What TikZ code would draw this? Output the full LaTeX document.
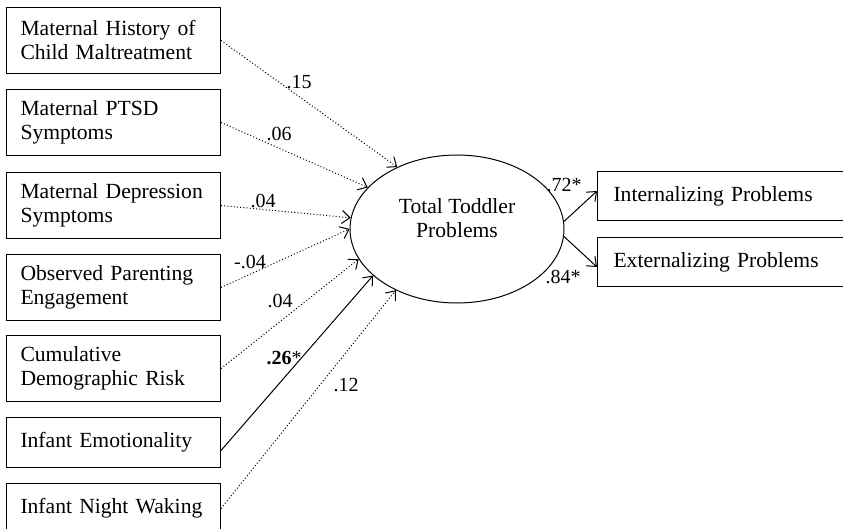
\documentclass[tikz,border=0pt]{standalone}
\usepackage{fontspec}
\setmainfont{Liberation Serif}
\usetikzlibrary{arrows.meta,shapes.geometric}

\begin{document}
\begin{tikzpicture}[x=1pt,y=-1pt,
  font=\fontsize{21.6}{24}\selectfont,
  box/.style={draw, line width=1pt, anchor=north west, minimum width=214pt,
    text width=186pt, inner xsep=14pt, align=left},
  tall/.style={box, minimum height=66pt},
  short/.style={box, minimum height=50pt},
  outbox/.style={draw, line width=1pt, anchor=north west, minimum width=247pt,
    minimum height=49pt, text width=215pt, inner xsep=16pt, align=left},
  coef/.style={font=\fontsize{20}{24}\selectfont, inner sep=0pt},
  link/.style={line width=1pt, -{Straight Barb[length=8pt,width=13pt]}},
  weak/.style={link, dash pattern=on 1pt off 2.2pt}]
  \useasboundingbox (0,0) rectangle (843,529);
  \clip (0,0) rectangle (843,529);

  % predictors
  \node[tall] (mh) at (6,7) {Maternal History of\\Child Maltreatment};
  \node[tall] (pt) at (6,89) {Maternal PTSD\\Symptoms};
  \node[tall] (dep) at (6,172) {Maternal Depression\\Symptoms};
  \node[tall] (par) at (6,254) {Observed Parenting\\Engagement};
  \node[tall] (risk) at (6,335) {Cumulative\\Demographic Risk};
  \node[short] (emo) at (6,417) {Infant Emotionality};
  \node[short] (wake) at (6,483) {Infant Night Waking};

  % latent factor and indicators
  \node[draw, ellipse, line width=1pt, minimum width=214pt, minimum height=148pt,
    align=center, inner sep=0pt, text depth=21pt] (tot) at (457,229)
    {Total Toddler\\Problems};
  \node[outbox] (int) at (597,171) {Internalizing Problems};
  \node[outbox] (ext) at (597,237) {Externalizing Problems};

  % paths
  \draw[weak] (mh.east) -- (tot.134);
  \draw[weak] (pt.east) -- (tot.155);
  \draw[weak] (dep.east) -- (tot.174);
  \draw[weak] (par.east) -- (tot.180);
  \draw[weak] (risk.east) -- (tot.197);
  \draw[link] ([yshift=-8pt]emo.east) -- (tot.209);
  \draw[weak] (wake.east) -- (tot.225);
  \draw[link] (tot.4) -- ([yshift=5pt]int.west);
  \draw[link] (tot.356) -- ([yshift=-5pt]ext.west);

  % coefficients
  \node[coef] (c1) at (299,82) {.15};
  \node[coef] (c2) at (279,134) {.06};
  \node[coef] (c3) at (263,201) {.04};
  \node[coef] (c4) at (250,262) {-.04};
  \node[coef] (c5) at (280,301) {.04};
  \node[coef] (c6) at (284,358) {\textbf{.26}*};
  \node[coef] (c7) at (346,385) {.12};
  \node[coef] (c8) at (564,185) {.72*};
  \node[coef] (c9) at (563,277) {.84*};
\end{tikzpicture}
\end{document}
